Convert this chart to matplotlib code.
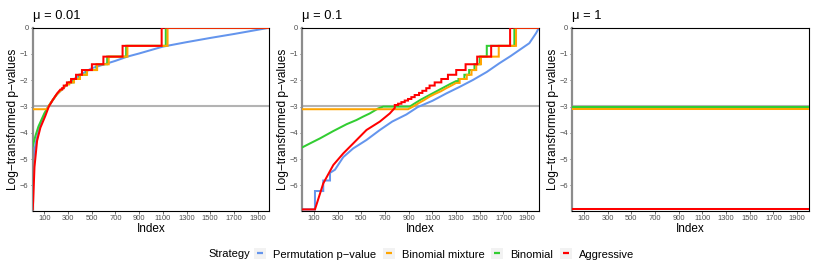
import matplotlib
matplotlib.use("Agg")
import matplotlib.pyplot as plt
from matplotlib.lines import Line2D
from matplotlib.patches import Rectangle
from matplotlib.legend_handler import HandlerTuple

plt.rcParams['font.family'] = ['Liberation Sans', 'DejaVu Sans']

# values (index, log p-value)
titles = ['\u03bc = 0.01', '\u03bc = 0.1', '\u03bc = 1']
strategies = ['Permutation p\u2212value', 'Binomial mixture', 'Binomial', 'Aggressive']
colors = ['#6495ED', '#FFA500', '#32CD32', '#FF0000']
alpha_level = -2.996  # log(0.05)
x_ticks = [100, 300, 500, 700, 900, 1100, 1300, 1500, 1700, 1900]
y_ticks = [0, -1, -2, -3, -4, -5, -6]

# mu = 0.01
perm_a_x = [1, 10, 25, 50, 80, 130, 200, 300, 400, 500, 600, 700, 800, 900, 1000, 1100, 1300, 1500, 1700, 1900, 2000]
perm_a_y = [-5.8, -4.9, -4.4, -3.95, -3.5, -3.02, -2.56, -2.11, -1.80, -1.54, -1.40, -1.26, -1.10, -0.98, -0.85, -0.72, -0.55, -0.39, -0.24, -0.08, 0.0]
mix_a_x = [1, 122, 140, 170, 207, 250, 290, 310, 310, 350, 350, 400, 400, 460, 460, 545, 545, 643, 643, 801, 801, 1140, 1140, 2000]
mix_a_y = [-3.1, -3.1, -2.95, -2.75, -2.52, -2.33, -2.15, -2.15, -2.08, -2.08, -1.95, -1.95, -1.79, -1.79, -1.61, -1.61, -1.39, -1.39, -1.10, -1.10, -0.69, -0.69, 0.0, 0.0]
bin_a_x = [1, 25, 50, 100, 140, 170, 207, 250, 290, 305, 305, 345, 345, 395, 395, 455, 455, 540, 540, 630, 630, 790, 790, 1125, 1125, 2000]
bin_a_y = [-4.5, -4.1, -3.75, -3.25, -2.95, -2.75, -2.52, -2.33, -2.15, -2.15, -2.08, -2.08, -1.95, -1.95, -1.79, -1.79, -1.61, -1.61, -1.39, -1.39, -1.10, -1.10, -0.69, -0.69, 0.0, 0.0]
agg_a_x = [1, 5, 16, 38, 66, 108, 137, 170, 207, 235, 250, 250, 263, 263, 290, 290, 325, 325, 367, 367, 417, 417, 501, 501, 598, 598, 760, 760, 1090, 1090, 2000]
agg_a_y = [-6.9, -6.6, -5.3, -4.3, -3.8, -3.35, -3.0, -2.75, -2.5, -2.35, -2.35, -2.30, -2.30, -2.20, -2.20, -2.08, -2.08, -1.95, -1.95, -1.79, -1.79, -1.61, -1.61, -1.39, -1.39, -1.10, -1.10, -0.69, -0.69, 0.0, 0.0]

# mu = 0.1
perm_b_x = [1, 108, 108, 178, 178, 235, 235, 277, 347, 431, 543, 656, 760, 880, 975, 1100, 1217, 1330, 1441, 1560, 1666, 1760, 1834, 1918, 1975, 2000]
perm_b_y = [-6.91, -6.91, -6.21, -6.21, -5.81, -5.81, -5.52, -5.40, -4.92, -4.59, -4.27, -3.89, -3.57, -3.30, -3.02, -2.78, -2.50, -2.25, -1.99, -1.68, -1.35, -1.08, -0.85, -0.59, -0.21, 0.0]
mix_b_x = [1, 894, 936, 980, 1030, 1076, 1120, 1170, 1217, 1260, 1300, 1330, 1330, 1390, 1390, 1430, 1430, 1470, 1470, 1510, 1510, 1660, 1660, 1806, 1806, 2000]
mix_b_y = [-3.1, -3.1, -3.0, -2.88, -2.75, -2.62, -2.52, -2.42, -2.30, -2.20, -2.10, -2.10, -1.95, -1.95, -1.79, -1.79, -1.61, -1.61, -1.39, -1.39, -1.10, -1.10, -0.69, -0.69, 0.0, 0.0]
bin_b_x = [1, 66, 150, 263, 375, 459, 515, 571, 642, 684, 908, 950, 1000, 1050, 1100, 1150, 1200, 1250, 1300, 1320, 1320, 1370, 1370, 1410, 1410, 1455, 1455, 1500, 1500, 1559, 1559, 1792, 1792, 2000]
bin_b_y = [-4.55, -4.40, -4.21, -3.93, -3.67, -3.51, -3.38, -3.26, -3.07, -3.0, -3.0, -2.88, -2.74, -2.62, -2.50, -2.38, -2.26, -2.14, -2.03, -2.03, -1.95, -1.95, -1.79, -1.79, -1.61, -1.61, -1.39, -1.39, -1.10, -1.10, -0.69, -0.69, 0.0, 0.0]
agg_b_x = [1, 108, 178, 263, 347, 431, 543, 656, 740, 782, 782, 810, 810, 838, 838, 866, 866, 894, 894, 922, 922, 950, 950, 987, 987, 1015, 1015, 1048, 1048, 1076, 1076, 1119, 1119, 1175, 1175, 1231, 1231, 1301, 1301, 1380, 1380, 1478, 1478, 1596, 1596, 1756, 1756, 2000]
agg_b_y = [-6.91, -6.91, -5.92, -5.22, -4.78, -4.40, -3.89, -3.57, -3.26, -3.05, -2.94, -2.94, -2.89, -2.89, -2.83, -2.83, -2.77, -2.77, -2.71, -2.71, -2.64, -2.64, -2.56, -2.56, -2.48, -2.48, -2.40, -2.40, -2.30, -2.30, -2.20, -2.20, -2.08, -2.08, -1.95, -1.95, -1.79, -1.79, -1.61, -1.61, -1.39, -1.39, -1.10, -1.10, -0.69, -0.69, 0.0, 0.0]

# mu = 1
perm_c_x = [1, 2000]
perm_c_y = [-6.91, -6.91]
mix_c_x = [1, 2000]
mix_c_y = [-3.11, -3.11]
bin_c_x = [1, 2000]
bin_c_y = [-3.03, -3.03]
agg_c_x = [1, 2000]
agg_c_y = [-6.91, -6.91]

panels = [
    [(perm_a_x, perm_a_y), (mix_a_x, mix_a_y), (bin_a_x, bin_a_y), (agg_a_x, agg_a_y)],
    [(perm_b_x, perm_b_y), (mix_b_x, mix_b_y), (bin_b_x, bin_b_y), (agg_b_x, agg_b_y)],
    [(perm_c_x, perm_c_y), (mix_c_x, mix_c_y), (bin_c_x, bin_c_y), (agg_c_x, agg_c_y)],
]
# drawing order: permutation, binomial, mixture, aggressive
draw_order = [0, 2, 1, 3]

W, H = 817, 273
fig = plt.figure(figsize=(W / 100, H / 100), dpi=100)
lefts = [32.7, 302.3, 572.3]
ax_w, ax_top, ax_bot = 236.7, 27.7, 211.0

for i, series in enumerate(panels):
    ax = fig.add_axes([lefts[i] / W, 1 - ax_bot / H, ax_w / W, (ax_bot - ax_top) / H])
    ax.axhline(alpha_level, color='#b3b3b3', lw=1.5, zorder=1)
    for n, k in enumerate(draw_order):
        xs, ys = series[k]
        ax.plot(xs, ys, color=colors[k], lw=1.45, zorder=2 + n, solid_joinstyle='miter')
    ax.set_xlim(1, 2000)
    ax.set_ylim(-6.97, 0)
    ax.set_xticks(x_ticks)
    ax.set_xticklabels([str(t) for t in x_ticks])
    ax.set_yticks(y_ticks)
    ax.set_yticklabels([str(t).replace('-', '\u2212') for t in y_ticks])
    ax.tick_params(labelsize=5.4, labelcolor='#4d4d4d', color='#333333',
                   length=1.8, width=0.5, pad=1.2)
    for side in ['top', 'right', 'bottom']:
        ax.spines[side].set_color('black')
        ax.spines[side].set_linewidth(0.8)
    ax.spines['left'].set_color('#8c8c8c')
    ax.spines['left'].set_linewidth(1.6)
    ax.set_title(titles[i], loc='left', fontsize=9.3, pad=6)
    ax.set_xlabel('Index', fontsize=8.5, va='center')
    ax.xaxis.set_label_coords(0.5, -0.098)
    ax.set_ylabel('Log\u2212transformed p\u2212values', fontsize=8.6, va='center')
    ax.yaxis.set_label_coords(-0.083, 0.5)

handles = []
for c in colors:
    box = Rectangle((0, 0), 1, 1, facecolor='#f2f2f2', edgecolor='none')
    ln = Line2D([], [], ls='none', marker='_', ms=5, mew=1.6, color=c)
    handles.append((box, ln))

leg_y = 1 - 254 / H
fig.text(208 / W, leg_y, 'Strategy', fontsize=8, va='center', ha='left')
fig.legend(handles, strategies, loc='center', bbox_to_anchor=(444 / W, leg_y),
           ncol=4, frameon=False, fontsize=8, handler_map={tuple: HandlerTuple(ndivide=1)},
           handlelength=1.1, handleheight=1.1, handletextpad=0.6, columnspacing=0.6,
           borderpad=0, borderaxespad=0)

fig.savefig('out.png', dpi=100)
